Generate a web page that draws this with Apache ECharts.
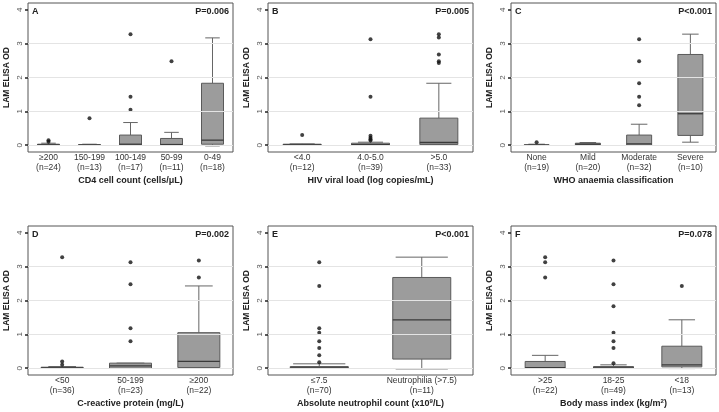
<!DOCTYPE html>
<html><head><meta charset="utf-8">
<script src="https://cdn.jsdelivr.net/npm/echarts@6/dist/echarts.min.js"></script>
<style>html,body{margin:0;padding:0;background:#fff}#c{width:719px;height:412px}</style>
</head><body><div id="c"></div>
<script>
// ---- Data (box = [min, Q1, median, Q3, max]; outliers = [categoryIndex, value]) ----
const catsA = ["≥200\n(n=24)", "150-199\n(n=13)", "100-149\n(n=17)", "50-99\n(n=11)", "0-49\n(n=18)"];
const boxA = [[0,0,0.01,0.03,0.06],[0,0,0,0.02,0.03],[0,0,0.03,0.3,0.67],[0,0,0.02,0.2,0.38],[-0.02,0.03,0.15,1.83,3.17]];
const outA = [[0,0.1],[0,0.15],[1,0.8],[2,1.05],[2,1.43],[2,3.28],[3,2.48]];

const catsB = ["<4.0\n(n=12)", "4.0-5.0\n(n=39)", ">5.0\n(n=33)"];
const boxB = [[0,0,0.01,0.03,0.04],[0,0,0.02,0.06,0.09],[0,0.02,0.08,0.8,1.83]];
const outB = [[0,0.3],[1,0.14],[1,0.18],[1,0.22],[1,0.28],[1,1.43],[1,3.13],[2,2.43],[2,2.48],[2,2.68],[2,3.18],[2,3.28]];

const catsC = ["None\n(n=19)", "Mild\n(n=20)", "Moderate\n(n=32)", "Severe\n(n=10)"];
const boxC = [[0,0,0.005,0.01,0.03],[0,0.01,0.03,0.06,0.08],[0,0,0.04,0.3,0.62],[0.09,0.29,0.93,2.68,3.28]];
const outC = [[0,0.09],[2,1.18],[2,1.43],[2,1.83],[2,2.48],[2,3.13]];

const catsD = ["<50\n(n=36)", "50-199\n(n=23)", "≥200\n(n=22)"];
const boxD = [[0,0,0.01,0.03,0.05],[0,0,0.07,0.15,0.15],[0,0.02,0.2,1.05,2.43]];
const outD = [[0,0.1],[0,0.2],[0,3.28],[1,0.8],[1,1.18],[1,2.48],[1,3.13],[2,2.68],[2,3.18]];

const catsE = ["≤7.5\n(n=70)", "Neutrophilia (>7.5)\n(n=11)"];
const boxE = [[0,0,0.01,0.05,0.13],[-0.02,0.27,1.43,2.68,3.28]];
const outE = [[0,0.18],[0,0.38],[0,0.6],[0,0.8],[0,1.05],[0,1.18],[0,2.43],[0,3.13]];

const catsF = [">25\n(n=22)", "18-25\n(n=49)", "<18\n(n=13)"];
const boxF = [[0,0,0.02,0.2,0.38],[0,0,0.01,0.05,0.1],[-0.01,0.04,0.1,0.65,1.43]];
const outF = [[0,2.68],[0,3.13],[0,3.28],[1,0.15],[1,0.6],[1,0.8],[1,1.05],[1,1.83],[1,2.48],[1,3.18],[2,2.43]];

const xTitles = [
  "{t|CD4 cell count (cells/μL)}",
  "{t|HIV viral load (log copies/mL)}",
  "{t|WHO anaemia classification}",
  "{t|C-reactive protein (mg/L)}",
  "{t|Absolute neutrophil count (x10}{s|9}{t|/L)}",
  "{t|Body mass index (kg/m}{s|2}{t|)}"
];
const letters = ["A","B","C","D","E","F"];
const pValues = ["P=0.006","P=0.005","P<0.001","P=0.002","P<0.001","P=0.078"];
const yTicks = [0,1,2,3,4];
const gridValues = [0,1,2,3];
const yTitle = "LAM ELISA OD";

// ---- Chart ----
const FONT = '"Liberation Sans", Arial, Helvetica, sans-serif';
const panels = [
  {cats:catsA, box:boxA, out:outA, bw:22, cap:0.66},
  {cats:catsB, box:boxB, out:outB, bw:38, cap:0.66},
  {cats:catsC, box:boxC, out:outC, bw:25, cap:0.66},
  {cats:catsD, box:boxD, out:outD, bw:42, cap:0.66},
  {cats:catsE, box:boxE, out:outE, bw:58, cap:0.9},
  {cats:catsF, box:boxF, out:outF, bw:40, cap:0.66}
];
const cols = [28, 268, 511], rows = [3, 226], W = 205, H = 149;

function boxRenderer(bw, capRatio){
  return function(params, api){
    const i = api.value(0);
    const x = api.coord([i, 0])[0];
    const yMin = api.coord([i, api.value(1)])[1];
    const yQ1 = api.coord([i, api.value(2)])[1];
    const yMed = api.coord([i, api.value(3)])[1];
    const yQ3 = api.coord([i, api.value(4)])[1];
    const yMax = api.coord([i, api.value(5)])[1];
    const h = bw/2, c = bw*capRatio/2;
    const ls = {stroke:'#666', lineWidth:1};
    return {type:'group', children:[
      {type:'line', shape:{x1:x,y1:yMin,x2:x,y2:yQ1}, style:ls},
      {type:'line', shape:{x1:x,y1:yQ3,x2:x,y2:yMax}, style:ls},
      {type:'line', shape:{x1:x-c,y1:yMin,x2:x+c,y2:yMin}, style:ls},
      {type:'line', shape:{x1:x-c,y1:yMax,x2:x+c,y2:yMax}, style:ls},
      {type:'rect', shape:{x:x-h,y:yQ3,width:bw,height:Math.max(yQ1-yQ3,0.5)}, style:{fill:'#9c9c9c', stroke:'#5a5a5a', lineWidth:1}},
      {type:'line', shape:{x1:x-h,y1:yMed,x2:x+h,y2:yMed}, style:{stroke:'#3a3a3a', lineWidth:1.3}}
    ]};
  };
}

const option = {animation:false, backgroundColor:'#fff', grid:[], xAxis:[], yAxis:[], series:[], graphic:[]};
panels.forEach((p, i) => {
  const left = cols[i % 3], top = rows[Math.floor(i / 3)];
  option.grid.push({left:left, top:top, width:W, height:H, show:true, borderColor:'#555', borderWidth:1, backgroundColor:'transparent'});
  option.xAxis.push({
    type:'category', gridIndex:i, data:p.cats, boundaryGap:true,
    axisTick:{show:false}, axisLine:{show:false}, splitLine:{show:false},
    axisLabel:{interval:0, margin:1, fontSize:8.5, lineHeight:10, color:'#333', fontFamily:FONT},
    name:xTitles[i], nameLocation:'middle', nameGap:23,
    nameTextStyle:{rich:{
      t:{fontSize:9, fontWeight:'bold', color:'#222', fontFamily:FONT, lineHeight:11},
      s:{fontSize:6, fontWeight:'bold', color:'#222', fontFamily:FONT, verticalAlign:'top', lineHeight:11}
    }}
  });
  option.yAxis.push({
    type:'value', gridIndex:i, min:-0.2, max:4.2,
    axisLine:{show:false},
    axisTick:{show:true, length:3, customValues:yTicks, lineStyle:{color:'#222', width:1.5}},
    axisLabel:{customValues:yTicks, rotate:90, fontSize:8, color:'#555', margin:4, fontFamily:FONT},
    splitLine:{show:false},
    name:yTitle, nameLocation:'middle', nameGap:17,
    nameTextStyle:{fontSize:8.5, fontWeight:'bold', color:'#222', fontFamily:FONT}
  });
  // light horizontal gridlines behind the boxes
  option.series.push({
    type:'line', xAxisIndex:i, yAxisIndex:i, data:[], z:1, silent:true,
    markLine:{silent:true, symbol:['none','none'], label:{show:false},
      lineStyle:{color:'#e4e4e4', width:1, type:'solid'},
      data:gridValues.map(v => ({yAxis:v}))}
  });
  option.series.push({
    type:'custom', xAxisIndex:i, yAxisIndex:i,
    data:p.box.map((b, k) => [k].concat(b)),
    encode:{x:0, y:[1,2,3,4,5]},
    renderItem:boxRenderer(p.bw, p.cap), z:2
  });
  option.series.push({
    type:'scatter', xAxisIndex:i, yAxisIndex:i, data:p.out,
    symbolSize:4, itemStyle:{color:'#111'}, z:3
  });
  option.graphic.push({type:'text', x:left+4, y:top+4, style:{text:letters[i], font:'bold 9px ' + FONT, fill:'#222', align:'left', verticalAlign:'top'}});
  option.graphic.push({type:'text', x:left+W-4, y:top+4, style:{text:pValues[i], font:'bold 9px ' + FONT, fill:'#222', align:'right', verticalAlign:'top'}});
});

const chart = echarts.init(document.getElementById('c'), null, {renderer:'canvas'});
chart.setOption(option);
</script>
</body></html>
